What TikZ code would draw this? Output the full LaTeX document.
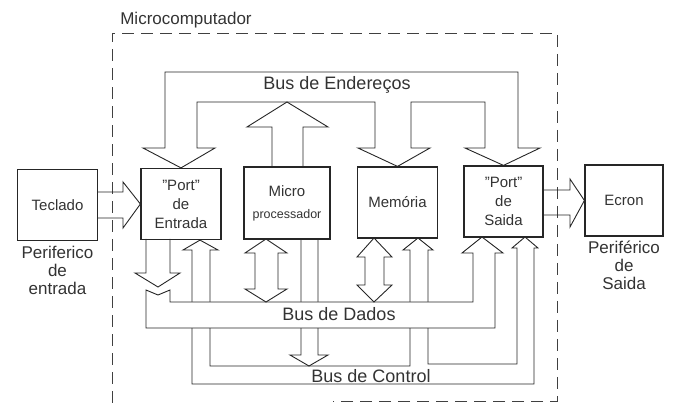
\documentclass[tikz,border=0pt]{standalone}
\usepackage{fontspec}
\setmainfont{Liberation Sans}
\usetikzlibrary{positioning}

\begin{document}
\begin{tikzpicture}[x=1pt,y=-1pt,
            blok/.style={draw=black!85,rectangle,line width=1.2pt,minimum width=80,minimum height=71,inner sep=0,align=center,font=\fontsize{15}{19}\selectfont},
            lab/.style={align=center,inner sep=1,font=\fontsize{17}{18}\selectfont},
            buslab/.style={inner sep=1,font=\fontsize{18}{20}\selectfont},
            bus/.style={draw=black!85,line width=.9pt,line join=miter},
            dashbox/.style={draw=black!75,line width=.9pt,dash pattern=on 12pt off 7pt},
            every node/.style={text=black!80}
          ]
          \useasboundingbox (0,0) rectangle (675,403);

          %blocks
          \node[blok] (teclado) at (57.5,205) {Teclado};
          \node[blok] (entrada) at (181,204) {"Port"\\de\\Entrada};
          \node[blok,minimum width=86,minimum height=72] (micro) at (287,203) {Micro\\[3pt]{\fontsize{12.5}{15}\selectfont processador}};
          \node[blok] (memoria) at (397.5,202.5) {Memória};
          \node[blok,minimum width=79] (saida) at (503.5,201.5) {"Port"\\de\\Saida};
          \node[blok,minimum width=78] (ecron) at (624,200.5) {Ecron};

          %labels
          \node[lab,below=4pt of teclado] (perent) {Periferico\\de\\entrada};
          \node[lab,below=3pt of ecron] (persai) {Periférico\\de\\Saida};
          \node[buslab,font=\fontsize{17}{20}\selectfont] (mclab) at (186,20) {Microcomputador};
          \node[buslab] (endlab) at (337,85) {Bus de Endereços};

          %microcomputer border
          \draw[dashbox] (112,403) -- (112,33) -- (557,33) -- (557,401) -- (333,401);

          %peripheral arrows
          \draw[bus] (98,192) -- (123,192) -- (123,182) -- (entrada.west) -- (123,228) -- (123,218) -- (98,218);
          \draw[bus] (543,190) -- (570,190) -- (570,179) -- (ecron.west) -- (570,227) -- (570,215) -- (543,215);

          %address bus
          \draw[bus] (entrada.north) -- (143,148) -- (165,148) -- (165,72) -- (518,72) -- (518,148)
            -- (540,148) -- (saida.north) -- (465,148) -- (485,148) -- (485,102) -- (411,102) -- (411,148)
            -- (430,148) -- (memoria.north) -- (358,148) -- (375,148) -- (375,102) -- (197,102) -- (197,148)
            -- (215,148) -- cycle;
          \draw[bus] (272,167) -- (272,127) -- (247,127) -- (287,102) -- (328,127) -- (303,127) -- (303,167);

          %control bus
          \draw[bus] (entrada.south -| 200,0) -- (218,250) -- (210,250) -- (210,366) -- (410,366) -- (410,250)
            -- (403,250) -- (418,238) -- (433,250) -- (428,250) -- (428,364) -- (517,364) -- (517,248)
            -- (512,248) -- (525,237) -- (538,248) -- (534,248) -- (534,384) -- (192,384) -- (192,250)
            -- (183,250) -- cycle;
          \draw[bus] (301,239) -- (301,355) -- (290,355) -- (309,366) -- (328,355) -- (318,355) -- (318,239);
          \node[buslab] (ctllab) at (371,376) {Bus de Control};

          %data bus
          \draw[bus,fill=white] (146,290) -- (158,295) -- (170,290) -- (170,302) -- (473,302) -- (473,253)
            -- (462,253) -- (482,237) -- (503,253) -- (495,253) -- (495,328) -- (146,328) -- cycle;
          \draw[bus] (146,239) -- (146,273) -- (135,273) -- (158,287) -- (180,273) -- (170,273) -- (170,239);
          \draw[bus] (266,239) -- (287,253) -- (278,253) -- (278,289) -- (287,289) -- (266,302) -- (245,289)
            -- (255,289) -- (255,253) -- (245,253) -- cycle;
          \draw[bus] (374,238) -- (392,257) -- (384,257) -- (384,285) -- (392,285) -- (374,302) -- (357,285)
            -- (365,285) -- (365,257) -- (357,257) -- cycle;
          \node[buslab] (dadlab) at (339,314) {Bus de Dados};

      \end{tikzpicture}
\end{document}
